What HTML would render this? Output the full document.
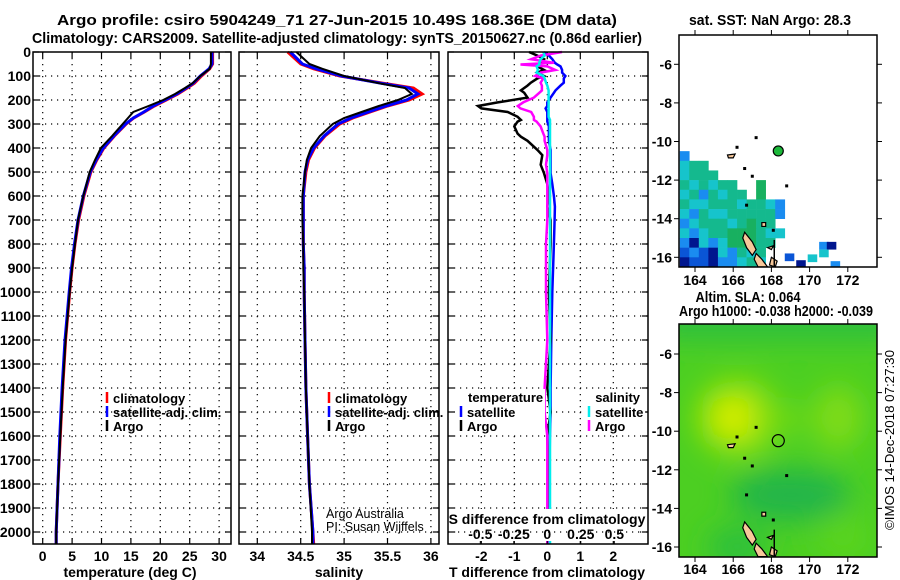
<!DOCTYPE html>
<html><head><meta charset="utf-8">
<style>
html,body{margin:0;padding:0;background:#fff;}
svg{display:block;font-family:"Liberation Sans",sans-serif;}
.t{font-weight:bold;font-size:15px;}
.k{font-weight:bold;font-size:14px;}
.l{font-weight:bold;font-size:13px;}
</style></head>
<body>
<svg id="fig" width="900" height="580" viewBox="0 0 900 580" xmlns="http://www.w3.org/2000/svg">
<text class="t" x="337" y="25" text-anchor="middle" textLength="560" lengthAdjust="spacingAndGlyphs">Argo profile: csiro 5904249_71 27-Jun-2015 10.49S 168.36E (DM data)</text>
<text class="t" x="337" y="43" text-anchor="middle" textLength="610" lengthAdjust="spacingAndGlyphs">Climatology: CARS2009. Satellite-adjusted climatology: synTS_20150627.nc (0.86d earlier)</text>
<text class="t" x="770" y="25" text-anchor="middle" textLength="162" lengthAdjust="spacingAndGlyphs" font-size="13">sat. SST: NaN Argo: 28.3</text>
<text class="t" x="748" y="302" text-anchor="middle" textLength="105" lengthAdjust="spacingAndGlyphs" font-size="13">Altim. SLA: 0.064</text>
<text class="t" x="776" y="316" text-anchor="middle" textLength="194" lengthAdjust="spacingAndGlyphs" font-size="13">Argo h1000: -0.038 h2000: -0.039</text>
<text x="894" y="440" font-size="13" text-anchor="middle" transform="rotate(-90 894 440)" textLength="180" lengthAdjust="spacingAndGlyphs">©IMOS 14-Dec-2018 07:27:30</text>
<g id="g"></g>
</svg>
<script>
// ---- data ----
const depthT = [0,50,70,100,130,150,175,200,225,250,275,300,350,400,450,500,600,700,800,900,1000,1200,1400,1600,1800,2000,2050];
const argoT  = [28.6,28.6,28.4,26.8,25.5,24.2,22.5,20.5,18.0,15.4,14.5,13.6,11.8,9.9,8.9,8.0,6.9,6.0,5.5,5.0,4.6,3.9,3.4,3.0,2.6,2.3,2.3];
const climT  = [28.9,28.9,28.4,27.0,25.8,24.6,23.0,21.0,19.0,17.3,15.5,14.2,12.2,10.4,9.2,8.2,7.0,6.1,5.5,5.0,4.6,3.9,3.4,3.0,2.6,2.3,2.3];
const satT   = [28.8,28.8,28.3,26.8,25.6,24.4,22.8,20.8,18.8,17.2,15.4,14.1,12.1,10.3,9.1,8.1,6.9,6.0,5.4,4.9,4.5,3.8,3.3,2.9,2.6,2.3,2.3];
const argoS  = [34.45,34.6,34.75,35.0,35.4,35.7,35.78,35.62,35.4,35.2,35.0,34.87,34.72,34.62,34.57,34.55,34.52,34.52,34.53,34.53,34.54,34.55,34.56,34.58,34.6,34.63,34.63];
const climS  = [34.35,34.5,34.65,34.95,35.45,35.8,35.9,35.75,35.5,35.3,35.1,34.95,34.78,34.66,34.59,34.56,34.53,34.53,34.53,34.54,34.54,34.55,34.56,34.58,34.6,34.64,34.65];
const satS   = [34.38,34.52,34.68,34.97,35.42,35.75,35.85,35.72,35.48,35.28,35.08,34.93,34.77,34.65,34.58,34.55,34.53,34.53,34.53,34.54,34.54,34.55,34.56,34.58,34.6,34.64,34.64];
const depthD = [0,15,30,45,52,60,75,86,100,110,128,140,160,170,190,210,225,235,250,270,283,290,310,340,353,370,408,430,470,505,550,600,644,700,800,1000,1200,1400,1500,1600,1800,2000,2050];
const argoDT = [-0.55,-0.3,-0.1,-0.2,-0.3,-0.3,-0.1,-0.3,-0.1,-0.3,-0.5,-0.6,-0.8,-0.7,-0.6,-1.5,-2.1,-2.0,-1.2,-0.9,-0.8,-0.9,-1.0,-0.9,-0.8,-0.6,-0.3,-0.15,-0.2,-0.1,0.0,0.05,0.0,0.1,0.1,0.05,0.1,0.0,0.1,0.0,0.05,0.0,0.0];
const satDT  = [-0.1,0.05,0.15,0.23,0.3,0.4,0.45,0.45,0.55,0.5,0.5,0.4,0.25,0.2,0.1,0.0,0.0,-0.05,0.0,0.0,0.0,0.0,0.05,0.05,0.05,0.05,0.1,0.1,0.1,0.1,0.15,0.2,0.23,0.22,0.2,0.15,0.12,0.1,0.1,0.08,0.06,0.05,0.05];
const argoDS = [0.11,-0.05,-0.12,0.05,-0.2,0.0,0.06,-0.05,-0.09,-0.03,-0.05,-0.04,-0.04,-0.06,-0.1,-0.18,-0.22,-0.2,-0.12,-0.1,-0.1,-0.08,-0.05,-0.03,-0.02,-0.02,0.0,0.0,-0.01,0.0,0.0,0.0,0.0,0.0,-0.01,-0.01,0.0,-0.02,-0.02,0.0,0.0,0.0,0.0];
const satDS  = [-0.03,-0.02,-0.05,-0.06,-0.06,-0.08,-0.07,-0.08,-0.03,-0.02,-0.01,0.0,0.01,0.01,0.01,0.01,0.01,0.01,0.01,0.01,0.02,0.02,0.02,0.02,0.02,0.02,0.02,0.02,0.02,0.02,0.02,0.02,0.02,0.02,0.02,0.02,0.02,0.02,0.02,0.02,0.02,0.02,0.02];
const depthTicks = [0,100,200,300,400,500,600,700,800,900,1000,1100,1200,1300,1400,1500,1600,1700,1800,1900,2000];
const tempTicks = [0,5,10,15,20,25,30];
const salTicks = [34,34.5,35,35.5,36];
const salTickLabels = ["34","34.5","35","35.5","36"];
const tdTicks = [-2,-1,0,1,2];
const sdTicks = [-0.5,-0.25,0,0.25,0.5];
const sdTickLabels = ["-0.5","-0.25","0","0.25","0.5"];
const lonTicks = [164,166,168,170,172];
const latTicks = [-6,-8,-10,-12,-14,-16];
const argoLon = 168.36, argoLat = -10.49;
// SST grid: rows from lat -10.5 downward (0.5 deg), cols from lon 163.2 (0.5 deg)
const sstRows = [
 "b..........",
 "cgg........",
 "cggg.......",
 "gcgcgg..G..",
 "cgbgcgg.G..",
 "gccgggcggcb",
 "cbgccgggggb",
 "bcgggcgGgg.",
 "cbcggGGGgcc",
 "bncbcGGGgg.",
 "BbBncbgcg..",
 "nBBnbbcgc..",
];
const sstExtraLon = [168.7,169.3,169.9,170.5,170.9,170.5,171.1];
const sstExtraLat = [-15.8,-16.15,-15.85,-15.2,-15.2,-15.6,-16.2];
const sstExtraCode = ["B","n","c","b","n","c","b"];
const sstColors = {g:"#14b98e",G:"#18b060",c:"#16c4cc",b:"#1a8cf0",B:"#0a55d6",n:"#00168e"};

// ---- helpers ----
const NS="http://www.w3.org/2000/svg";
const G=document.getElementById('g');
function mk(tag,at,parent){const e=document.createElementNS(NS,tag);for(const k in at)e.setAttribute(k,at[k]);(parent||G).appendChild(e);return e;}
function tx(str,x,y,cls,anchor,parent){const e=mk('text',{x:x,y:y,'class':cls,'text-anchor':anchor||'middle'},parent);e.textContent=str;return e;}
const yD = d => 52 + 0.24*d;
const PT = {l:33,r:231}, PS={l:239,r:439}, PD={l:448,r:648};
const TOP=52, BOT=544;
const xT = v => 42.7 + 5.88*v;
const xS = v => 257.3 + 86.8*(v-34);
const xDT = v => 547.3 + 33*v;
const xDS = v => 547.3 + 134*v;

function panel(P,name){
  const g=mk('g',{});
  
  
  depthTicks.forEach(d=>{const y=yD(d); if(d>0) mk('line',{x1:P.l,x2:P.r,y1:y,y2:y,stroke:'#000','stroke-dasharray':'1.2 4.8','stroke-width':1.2},g);
    mk('line',{x1:P.l,x2:P.l+6,y1:y,y2:y,stroke:'#000','stroke-width':1.2},g);
    mk('line',{x1:P.r-6,x2:P.r,y1:y,y2:y,stroke:'#000','stroke-width':1.2},g);});
  return g;
}
function vgrid(g,P,xs){xs.forEach(x=>{mk('line',{x1:x,x2:x,y1:TOP,y2:BOT,stroke:'#000','stroke-dasharray':'1.2 4.8','stroke-width':1.2},g);
  mk('line',{x1:x,x2:x,y1:BOT-6,y2:BOT,stroke:'#000','stroke-width':1.2},g);mk('line',{x1:x,x2:x,y1:TOP,y2:TOP+6,stroke:'#000','stroke-width':1.2},g);});}
function line(g,xs,ys,color,w,name){const pts=xs.map((v,i)=>[xs[i],ys[i]]);
  const p=mk('polyline',{points:pts.map(p=>p[0].toFixed(1)+','+p[1].toFixed(1)).join(' '),fill:'none',stroke:color,'stroke-width':w,'stroke-linejoin':'miter'},g);
  
  return p;}
function frame(g,P){mk('rect',{x:P.l,y:TOP,width:P.r-P.l,height:BOT-TOP,fill:'none',stroke:'#000','stroke-width':1.5},g);}
function legend(g,x,y,items){items.forEach((it,i)=>{const yy=y+i*14;mk('line',{x1:x,x2:x,y1:yy-6,y2:yy+5,stroke:it[1],'stroke-width':2.5},g);
  const t=tx(it[0],x+6,yy+5,'l','start',g);
  
  });}

// Panel 1 temperature
const g1=panel(PT,'temperature-panel');
vgrid(g1,PT,tempTicks.map(xT));
line(g1,climT.map(xT),depthT.map(yD),'#ff0000',3,'temperature-climatology-line');
line(g1,satT.map(xT),depthT.map(yD),'#0000ff',3,'temperature-satellite-line');
line(g1,argoT.map(xT),depthT.map(yD),'#000000',2,'temperature-argo-line');
frame(g1,PT);
depthTicks.forEach(d=>{const t=tx(String(d),31,yD(d)+5,'k','end',g1);
  
  });
tempTicks.forEach(v=>{const t=tx(String(v),xT(v),561,'k','middle',g1);
  
  });
const at1=tx('temperature (deg C)',130,577,'k','middle',g1);

legend(g1,107,398,[['climatology','#ff0000'],['satellite-adj. clim.','#0000ff'],['Argo','#000']]);

// Panel 2 salinity
const g2=panel(PS,'salinity-panel');
vgrid(g2,PS,salTicks.map(xS));
line(g2,climS.map(xS),depthT.map(yD),'#ff0000',3,'salinity-climatology-line');
line(g2,satS.map(xS),depthT.map(yD),'#0000ff',3,'salinity-satellite-line');
line(g2,argoS.map(xS),depthT.map(yD),'#000000',2,'salinity-argo-line');
frame(g2,PS);
salTicks.forEach((v,i)=>{const t=tx(salTickLabels[i],xS(v),561,'k','middle',g2);
  
  });
const at2=tx('salinity',339,577,'k','middle',g2);

legend(g2,329,398,[['climatology','#ff0000'],['satellite-adj. clim.','#0000ff'],['Argo','#000']]);
const cr1=tx('Argo Australia',326,518,'','start',g2);cr1.setAttribute('font-size','12.5');

const cr2=tx('PI: Susan Wijffels',326,531,'','start',g2);cr2.setAttribute('font-size','12.5');


// Panel 3 differences
const g3=panel(PD,'difference-panel');
vgrid(g3,PD,tdTicks.map(xDT));
line(g3,satDT.map(xDT),depthD.map(yD),'#0000ff',2.5,'temperature-satellite-diff-line');
line(g3,argoDT.map(xDT),depthD.map(yD),'#000000',2.5,'temperature-argo-diff-line');
line(g3,argoDS.map(xDS),depthD.map(yD),'#ff00ff',2.5,'salinity-argo-diff-line');
line(g3,satDS.map(xDS),depthD.map(yD),'#00eeee',2.5,'salinity-satellite-diff-line');
frame(g3,PD);
tdTicks.forEach(v=>{const t=tx(String(v),xDT(v),561,'k','middle',g3);
  
  });
const at3=tx('T difference from climatology',547,577,'k','middle',g3);

mk('rect',{x:458,y:509,width:180,height:32,fill:'#fff'},g3);
const at4=tx('S difference from climatology',547,524,'k','middle',g3);

sdTicks.forEach((v,i)=>{mk('line',{x1:xDS(v),x2:xDS(v),y1:541,y2:544,stroke:'#000'},g3);
  const t=tx(sdTickLabels[i],xDS(v),539,'k','middle',g3);
  
  });
mk('line',{x1:458,x2:640,y1:yD(2000),y2:yD(2000),stroke:'#000','stroke-dasharray':'1.2 4.8','stroke-width':1.2},g3);
mk('rect',{x:455,y:389,width:90,height:44,fill:'#fff'},g3);
mk('rect',{x:583,y:389,width:62,height:44,fill:'#fff'},g3);
const lh1=tx('temperature',468,402,'l','start',g3);

const lh2=tx('salinity',640,402,'l','end',g3);

legend(g3,461,412,[['satellite','#0000ff'],['Argo','#000']]);
legend(g3,589,412,[['satellite','#00eeee'],['Argo','#ff00ff']]);

// Maps
const MX0=679,MX1=877;
const lonX = lon => 695 + 19.1*(lon-164);
function mapAxes(g,mt,mb,latY,labY){
  mk('rect',{x:MX0,y:mt,width:MX1-MX0,height:mb-mt,fill:'none',stroke:'#000','stroke-width':1.5},g);
  lonTicks.forEach(l=>{const x=lonX(l);mk('line',{x1:x,x2:x,y1:mb,y2:mb+5,stroke:'#000'},g);mk('line',{x1:x,x2:x,y1:mt-5,y2:mt,stroke:'#000'},g);
    const t=tx(String(l),x,labY,'k','middle',g);
    
    });
  latTicks.forEach(l=>{const y=latY(l);mk('line',{x1:MX0-5,x2:MX0,y1:y,y2:y,stroke:'#000'},g);mk('line',{x1:MX1,x2:MX1+5,y1:y,y2:y,stroke:'#000'},g);
    const t=tx(String(l),672,y+5,'k','end',g);
    
    });
}
function islands(g,latY){
  const isl=[[[166.6,-14.7],[167.0,-15.2],[167.2,-15.6],[167.0,-15.9],[166.7,-15.5],[166.5,-15.0]],
             [[167.2,-15.8],[167.5,-16.1],[167.8,-16.5],[167.3,-16.5],[167.1,-16.1]],
             [[168.0,-16.0],[168.3,-16.2],[168.2,-16.5],[167.9,-16.4]],
             [[165.7,-10.7],[166.1,-10.65],[166.0,-10.85],[165.75,-10.85]],
             [[167.5,-14.2],[167.7,-14.2],[167.7,-14.4],[167.5,-14.4]],
             [[167.8,-15.5],[168.1,-15.4],[168.0,-15.6]]];
  isl.forEach(p=>{mk('polygon',{points:p.map(q=>lonX(q[0])+','+latY(q[1])).join(' '),fill:'#f7c89a',stroke:'#000','stroke-width':1.2},g);});
  [[167.0,-11.8],[166.6,-11.4],[167.2,-9.8],[166.2,-10.3],[168.8,-12.3],[166.7,-13.3],[168.1,-14.6]].forEach(p=>{
    mk('rect',{x:lonX(p[0])-1.5,y:latY(p[1])-1.5,width:3,height:3,fill:'#000'},g);});
  mk('line',{x1:lonX(168.15),x2:lonX(168.15),y1:latY(-15.1),y2:latY(-16.5),stroke:'#000','stroke-width':1.5},g);
}
// Map 1 SST
const latY1 = lat => 64.3 + 19.3*(-6-lat);
const m1=mk('g',{});


mk('rect',{x:MX0,y:35,width:MX1-MX0,height:232,fill:'#fff'},m1);
sstRows.forEach((row,r)=>{[...row].forEach((c,ci)=>{if(c==='.')return;
  const lon=163.2+ci*0.5, lat=-10.5-r*0.5;
  const x0=Math.max(MX0,lonX(lon)), y0=latY1(lat);
  const cell=mk('rect',{x:x0,y:y0,width:lonX(lon+0.5)-x0+0.3,height:Math.min(267,latY1(lat-0.5))-y0+0.3,fill:sstColors[c]},m1);
  
  });});
sstExtraLon.forEach((lon,i)=>{const y0=latY1(sstExtraLat[i]);
  const cell=mk('rect',{x:lonX(lon),y:y0,width:lonX(lon+0.5)-lonX(lon),height:Math.max(1,Math.min(267-y0,latY1(sstExtraLat[i]-0.4)-y0)),fill:sstColors[sstExtraCode[i]]},m1);
  
  });
islands(m1,latY1);
const pm1=mk('circle',{cx:lonX(argoLon),cy:latY1(argoLat),r:5,fill:'#1cb83a',stroke:'#000','stroke-width':1.2},m1);


mapAxes(m1,35,267,latY1,285);

// Map 2 SLA
const latY2 = lat => 354 + 19.3*(-6-lat);
const m2=mk('g',{});


const defs=mk('defs',{},m2);
const f=mk('filter',{id:'bl',x:'-50%',y:'-50%',width:'200%',height:'200%'},defs);mk('feGaussianBlur',{stdDeviation:14},f);
const cp=mk('clipPath',{id:'cp'},defs);mk('rect',{x:MX0,y:324,width:MX1-MX0,height:233},cp);
const mg=mk('g',{'clip-path':'url(#cp)'},m2);
mk('rect',{x:MX0,y:324,width:MX1-MX0,height:233,fill:'#4ccf22'},mg);
const bg=mk('g',{filter:'url(#bl)'},mg);
mk('rect',{x:MX0-20,y:300,width:240,height:40,fill:'#2fbf3e'},bg);
mk('ellipse',{cx:lonX(169),cy:latY2(-13.3),rx:60,ry:26,fill:'#22b54a'},bg);
mk('ellipse',{cx:lonX(166.2),cy:latY2(-16),rx:30,ry:20,fill:'#2cbf3c'},bg);
mk('ellipse',{cx:lonX(171.8),cy:latY2(-15.5),rx:25,ry:25,fill:'#5ad41e'},bg);
mk('ellipse',{cx:lonX(166.2),cy:latY2(-9.3),rx:42,ry:40,fill:'#8fe010'},bg);
mk('ellipse',{cx:lonX(171.5),cy:latY2(-9.3),rx:24,ry:32,fill:'#80dc14'},bg);
mk('ellipse',{cx:lonX(166.0),cy:latY2(-9.3),rx:20,ry:20,fill:'#dcef00'},bg);
mk('ellipse',{cx:lonX(168.8),cy:latY2(-9.4),rx:22,ry:14,fill:'#6cd817'},bg);
islands(mg,latY2);
const pm2=mk('circle',{cx:lonX(argoLon),cy:latY2(argoLat),r:6,fill:'none',stroke:'#000','stroke-width':1.2},m2);


mapAxes(m2,324,557,latY2,574);
</script>
</body></html>
